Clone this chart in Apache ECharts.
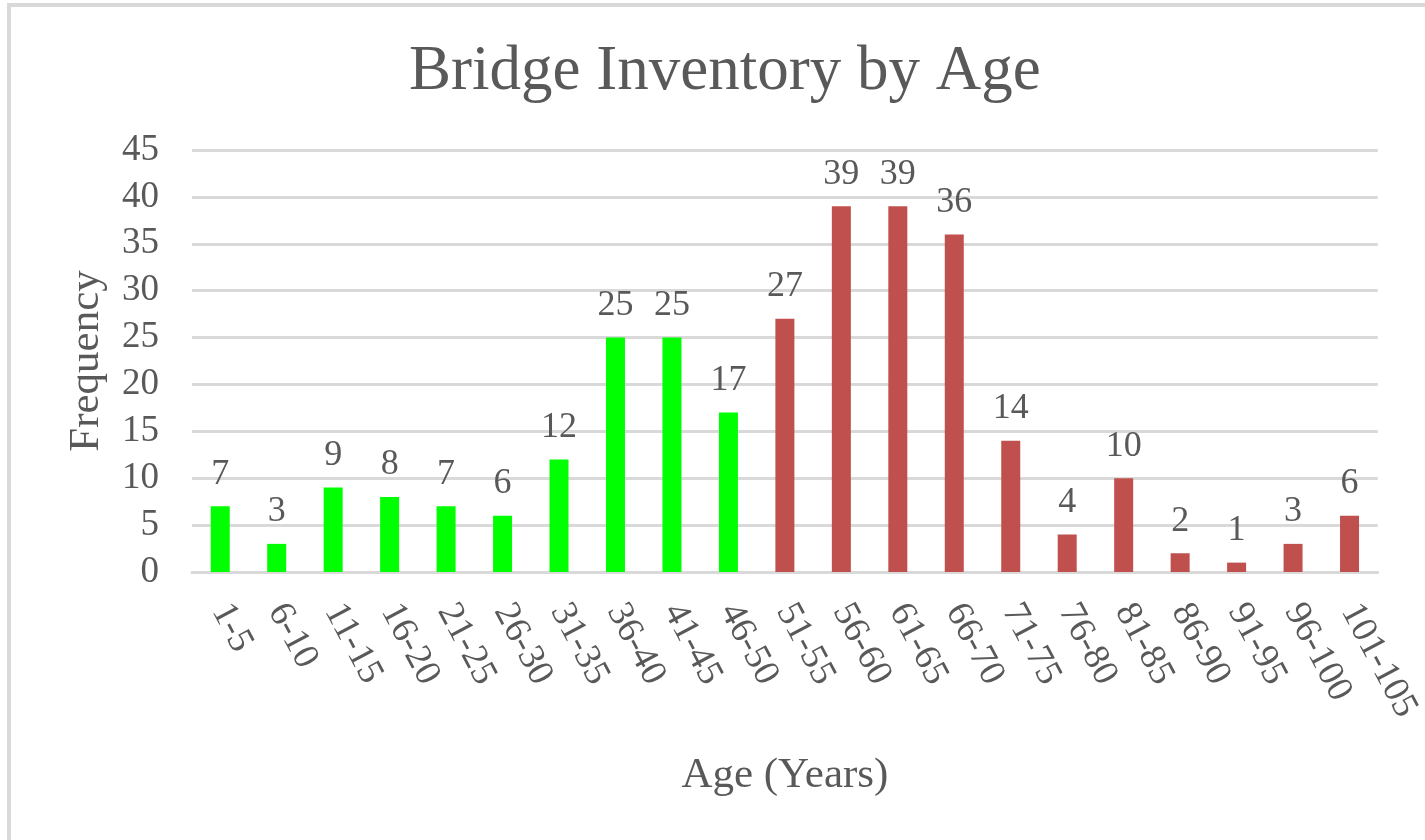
<!DOCTYPE html>
<html>
<head>
<meta charset="utf-8">
<script src="https://cdn.jsdelivr.net/npm/echarts@6/dist/echarts.min.js"></script>
<style>
html,body{margin:0;padding:0;background:#fff;}
#chart{width:1425px;height:840px;}
</style>
</head>
<body>
<div id="chart"></div>
<script>
const titleText = "Bridge Inventory by Age";
const xAxisName = "Age (Years)";
const yAxisName = "Frequency";
const categories = ["1-5","6-10","11-15","16-20","21-25","26-30","31-35","36-40","41-45","46-50","51-55","56-60","61-65","66-70","71-75","76-80","81-85","86-90","91-95","96-100","101-105"];
const frequency = [7,3,9,8,7,6,12,25,25,17,27,39,39,36,14,4,10,2,1,3,6];
// group of each category: 0 = green (up to 50 yrs), 1 = red (over 50 yrs)
const groupIndex = [0,0,0,0,0,0,0,0,0,0,1,1,1,1,1,1,1,1,1,1,1];
const groupColors = ["#00FF00", "#C0504D"];

const FONT = "Liberation Serif";
const TXT = "#595959";

const series = groupColors.map((c, g) => ({
  type: 'bar',
  data: frequency.map((v, i) => groupIndex[i] === g ? v : null),
  barWidth: 19,
  barGap: '-100%',
  itemStyle: { color: c },
  label: {
    show: true,
    position: 'top',
    distance: 14,
    color: TXT,
    fontFamily: FONT,
    fontSize: 36
  }
}));

const chart = echarts.init(document.getElementById('chart'));
chart.setOption({
  animation: false,
  backgroundColor: '#fff',
  graphic: [{
    type: 'rect',
    shape: { x: 9, y: 5, width: 1600, height: 1000 },
    style: { fill: 'none', stroke: '#d9d9d9', lineWidth: 4 }
  }],
  title: {
    text: titleText,
    left: 404,
    top: 36,
    textStyle: { fontFamily: FONT, fontSize: 63, fontWeight: 'normal', color: TXT }
  },
  grid: { left: 192, right: 40, top: 150, bottom: 268, containLabel: false },
  xAxis: {
    type: 'category',
    data: categories,
    name: xAxisName,
    nameLocation: 'middle',
    nameGap: 182,
    nameTextStyle: { fontFamily: FONT, fontSize: 43, color: TXT },
    axisLine: { lineStyle: { color: '#d9d9d9', width: 3 } },
    axisTick: { show: false },
    axisLabel: { rotate: -62, margin: 34, interval: 0, fontFamily: FONT, fontSize: 37, color: TXT }
  },
  yAxis: {
    type: 'value',
    min: 0, max: 45, interval: 5,
    name: yAxisName,
    nameLocation: 'middle',
    nameGap: 84,
    nameTextStyle: { fontFamily: FONT, fontSize: 43, color: TXT },
    axisLine: { show: false },
    axisTick: { show: false },
    axisLabel: { margin: 33, fontFamily: FONT, fontSize: 37, color: TXT },
    splitLine: { lineStyle: { color: '#d9d9d9', width: 3 } }
  },
  series: series
});
</script>
</body>
</html>
